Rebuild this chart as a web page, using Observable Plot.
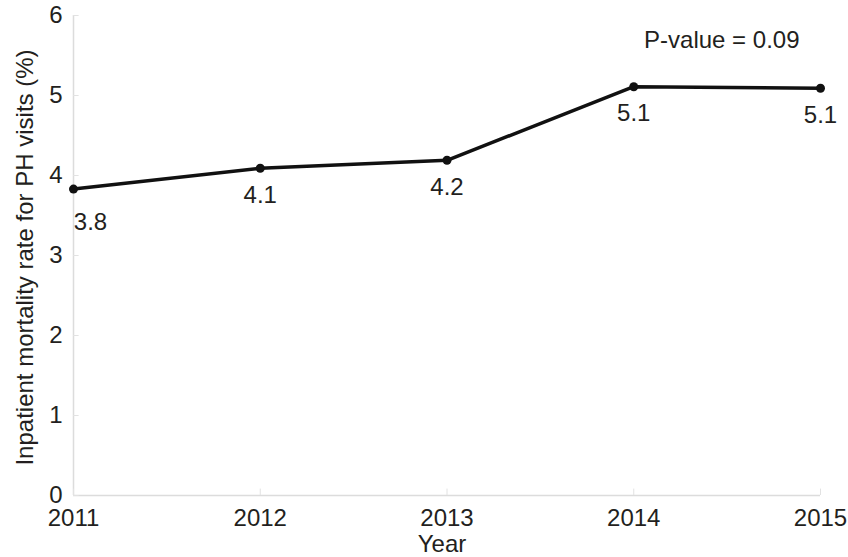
<!DOCTYPE html>
<html>
<head>
<meta charset="utf-8">
<script src="https://cdn.jsdelivr.net/npm/d3@7"></script>
<script src="https://cdn.jsdelivr.net/npm/@observablehq/plot@0.6"></script>
<style>
  html, body { margin: 0; padding: 0; background: white; overflow: hidden; }
</style>
</head>
<body>
<div id="chart"></div>
<script>
const years = [2011, 2012, 2013, 2014, 2015];
const rates = [3.83, 4.09, 4.19, 5.11, 5.09];
const rateLabels = ["3.8", "4.1", "4.2", "5.1", "5.1"];
const yTicks = [0, 1, 2, 3, 4, 5, 6];
const pValueText = "P-value = 0.09";
const xTitle = "Year";
const yTitle = "Inpatient mortality rate for PH visits (%)";

const data = years.map((year, i) => ({year, rate: rates[i], label: rateLabels[i]}));

const chart = Plot.plot({
  width: 848,
  height: 557,
  marginLeft: 73,
  marginRight: 28,
  marginTop: 15,
  marginBottom: 62,
  style: {
    fontFamily: "'Liberation Sans', Arial, sans-serif",
    fontSize: "24px",
    color: "#231f20",
    background: "white",
    overflow: "visible"
  },
  x: {
    domain: [2011, 2015],
    ticks: years,
    tickFormat: d => String(d),
    tickSize: 0,
    tickPadding: 13,
    label: null
  },
  y: {
    domain: [0, 6],
    ticks: yTicks,
    tickFormat: d => String(d),
    tickSize: 0,
    tickPadding: 11,
    label: null
  },
  marks: [
    Plot.ruleY([0], {stroke: "#dcdcdc", strokeWidth: 1.5}),
    Plot.ruleX([2011], {stroke: "#dcdcdc", strokeWidth: 1.5}),
    Plot.ruleX(years, {x: d => d, y1: 0, y2: 0.08, stroke: "#e2e2e2"}),
    Plot.ruleY(yTicks, {y: d => d, x1: 2011, x2: 2011.03, stroke: "#e2e2e2"}),
    Plot.line(data, {x: "year", y: "rate", stroke: "#111", strokeWidth: 3.5}),
    Plot.dot(data, {x: "year", y: "rate", r: 4.5, fill: "#111", stroke: "none"}),
    Plot.text(data.slice(1), {x: "year", y: "rate", text: "label", dy: 27, fill: "#231f20"}),
    Plot.text(data.slice(0, 1), {x: "year", y: "rate", text: "label", dx: 17, dy: 33, fill: "#231f20"}),
    Plot.text([pValueText], {frameAnchor: "top-right", textAnchor: "end", lineAnchor: "middle", text: d => d, dx: -21, dy: 25, fill: "#231f20"}),
    Plot.text([xTitle], {frameAnchor: "bottom", textAnchor: "middle", lineAnchor: "middle", text: d => d, dx: -5, dy: 49, fill: "#231f20"}),
    Plot.text([yTitle], {frameAnchor: "left", textAnchor: "middle", lineAnchor: "middle", text: d => d, rotate: -90, dx: -48, dy: 2, fill: "#231f20"})
  ]
});
document.getElementById("chart").appendChild(chart);
</script>
</body>
</html>
